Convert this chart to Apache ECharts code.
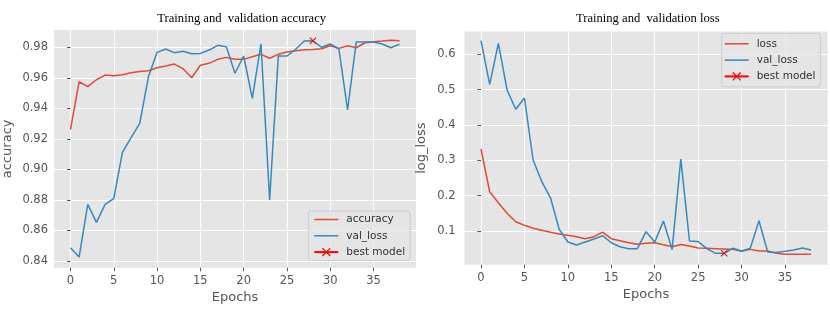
<!DOCTYPE html>
<html>
<head>
<meta charset="utf-8">
<script src="https://cdn.jsdelivr.net/npm/echarts@6/dist/echarts.min.js"></script>
<style>
html,body{margin:0;padding:0;background:#fff;}
#c{width:830px;height:312px;}
</style>
</head>
<body>
<div id="c"></div>
<script>
// ---- data ----
const epochs = Array.from({length: 39}, (_, i) => i);
const xTicks = [0, 5, 10, 15, 20, 25, 30, 35];
const accTicks = [0.84, 0.86, 0.88, 0.90, 0.92, 0.94, 0.96, 0.98];
const lossTicks = [0.1, 0.2, 0.3, 0.4, 0.5, 0.6];

const accuracy = [0.926, 0.9574, 0.9542, 0.9587, 0.9618, 0.9614, 0.962, 0.9633, 0.9642, 0.9646,
  0.9666, 0.9677, 0.969, 0.966, 0.960, 0.9682, 0.9695, 0.9721, 0.9734, 0.9721,
  0.9721, 0.9738, 0.9754, 0.9728, 0.9754, 0.9769, 0.9778, 0.9784, 0.9786, 0.9791,
  0.981, 0.9793, 0.981, 0.9797, 0.983, 0.9837, 0.9841, 0.9846, 0.9843];
const valAccuracy = [0.8485, 0.8424, 0.877, 0.8652, 0.877, 0.8807, 0.9111, 0.9207, 0.9301, 0.9605,
  0.9767, 0.9789, 0.9765, 0.9774, 0.9758, 0.976, 0.9782, 0.9813, 0.9804, 0.963,
  0.9743, 0.9465, 0.9822, 0.8798, 0.9743, 0.9743, 0.9787, 0.9841, 0.9843, 0.980,
  0.9822, 0.9789, 0.9389, 0.9835, 0.9835, 0.9835, 0.9822, 0.9797, 0.982];
const loss = [0.332, 0.211, 0.18, 0.150, 0.1263, 0.116, 0.1076, 0.102, 0.0963, 0.0915,
  0.0878, 0.0838, 0.0782, 0.0838, 0.097, 0.0782, 0.0725, 0.0667, 0.0622, 0.065,
  0.0667, 0.061, 0.0555, 0.062, 0.0575, 0.052, 0.051, 0.050, 0.049, 0.048,
  0.0425, 0.048, 0.0435, 0.0435, 0.037, 0.034, 0.034, 0.034, 0.0345];
const valLoss = [0.6385, 0.515, 0.631, 0.499, 0.4444, 0.4763, 0.3009, 0.2395, 0.194, 0.1048,
  0.0689, 0.0604, 0.0689, 0.0774, 0.0867, 0.0667, 0.0555, 0.050, 0.050, 0.098,
  0.0689, 0.128, 0.0478, 0.3037, 0.0717, 0.070, 0.050, 0.0368, 0.0368, 0.051,
  0.0433, 0.051, 0.129, 0.0405, 0.039, 0.0424, 0.046, 0.052, 0.046];
const bestEpoch = [28];
const bestAcc = [0.9843];
const bestLoss = [0.037];

const pairs = (ys) => ys.map((y, i) => [epochs[i], y]);

// ---- styles ----
const RED = '#E24A33', BLUE = '#348ABD', XRED = '#FF0000';
const TXT = '#555555';
const FONT = 'DejaVu Sans';
const XMARK = 'path://M0,1L1,0L5,4L9,0L10,1L6,5L10,9L9,10L5,6L1,10L0,9L4,5Z';
const LINEICON = 'path://M0,0H24V1.5H0Z';

function xAxisCfg(gi, gap) {
  return {
    type: 'value', gridIndex: gi, min: -1.9, max: 39.9,
    name: 'Epochs', nameLocation: 'middle', nameGap: gap,
    nameTextStyle: {color: TXT, fontFamily: FONT, fontSize: 13},
    axisLine: {show: false},
    axisTick: {show: true, length: 3.5, customValues: xTicks, lineStyle: {color: TXT, width: 1}},
    axisLabel: {customValues: xTicks, color: TXT, fontFamily: FONT, fontSize: 11.5, margin: 7},
    splitLine: {show: true, lineStyle: {color: '#FFFFFF', width: 1.1}}
  };
}
function yAxisCfg(gi, min, max, ticks, name, gap, dec, margin) {
  return {
    type: 'value', gridIndex: gi, min: min, max: max,
    name: name, nameLocation: 'middle', nameGap: gap, nameRotate: 90,
    nameTextStyle: {color: TXT, fontFamily: FONT, fontSize: 13},
    axisLine: {show: false},
    axisTick: {show: true, length: 3.5, customValues: ticks, lineStyle: {color: TXT, width: 1}},
    axisLabel: {customValues: ticks, color: TXT, fontFamily: FONT, fontSize: 11.5, margin: margin,
      formatter: v => Number(v).toFixed(dec)},
    splitLine: {show: true, lineStyle: {color: '#FFFFFF', width: 1.1}}
  };
}
function lineSeries(name, data, color, gi, z) {
  return {
    type: 'line', name: name, xAxisIndex: gi, yAxisIndex: gi, data: data,
    symbol: 'none', lineStyle: {color: color, width: 1.5}, itemStyle: {color: color},
    animation: false, z: z, silent: true
  };
}
function bestSeries(gi, y) {
  return {
    type: 'line', name: 'best model', xAxisIndex: gi, yAxisIndex: gi,
    data: [[bestEpoch[0], y]],
    symbol: XMARK, symbolSize: 7, showSymbol: true,
    lineStyle: {color: XRED, width: 1.5}, itemStyle: {color: XRED},
    animation: false, z: 5, silent: true
  };
}
function legendCfg(left, top, names, padding) {
  return {
    left: left, top: top, orient: 'vertical',
    data: [
      {name: names[0], icon: LINEICON},
      {name: names[1], icon: LINEICON},
      {name: names[2]}
    ],
    itemWidth: 24, itemHeight: 11, itemGap: 5.3,
    padding: padding,
    backgroundColor: 'rgba(229,229,229,0.8)', borderColor: '#CCCCCC', borderWidth: 1, borderRadius: 3,
    textStyle: {color: '#333333', fontFamily: FONT, fontSize: 10.5, padding: [0, 0, 0, 3]},
    selectedMode: false
  };
}

const chart = echarts.init(document.getElementById('c'), null, {renderer: 'canvas'});
chart.setOption({
  animation: false,
  backgroundColor: '#FFFFFF',
  grid: [
    {left: 48.6, top: 30, width: 367.4, height: 237.7, show: true, backgroundColor: '#E5E5E5', borderWidth: 0},
    {left: 464.5, top: 31.5, width: 363.1, height: 233.2, show: true, backgroundColor: '#E5E5E5', borderWidth: 0}
  ],
  xAxis: [xAxisCfg(0, 22), xAxisCfg(1, 21)],
  yAxis: [
    yAxisCfg(0, 0.83545, 0.99135, accTicks, 'accuracy', 40, 2, 6),
    yAxisCfg(1, 0.0046, 0.6645, lossTicks, 'log_loss', 36, 1, 9)
  ],
  legend: [
    legendCfg(308.3, 211, ['accuracy', 'val_loss', 'best model'], [3, 5, 3, 5]),
    legendCfg(721.7, 33.3, ['loss', 'val_loss', 'best model'], [5, 5, 5, 2])
  ],
  graphic: [
    {type: 'text', x: 241.7, y: 18.3, style: {text: 'Training and  validation accuracy',
      font: '12.6px "Liberation Serif"', fill: '#000', textAlign: 'center', textVerticalAlign: 'middle'}},
    {type: 'text', x: 647.8, y: 18.3, style: {text: 'Training and  validation loss',
      font: '12.6px "Liberation Serif"', fill: '#000', textAlign: 'center', textVerticalAlign: 'middle'}}
  ],
  series: [
    lineSeries('accuracy', pairs(accuracy), RED, 0, 2),
    lineSeries('val_loss', pairs(valAccuracy), BLUE, 0, 3),
    bestSeries(0, bestAcc[0]),
    lineSeries('loss', pairs(loss), RED, 1, 2),
    lineSeries('val_loss', pairs(valLoss), BLUE, 1, 3),
    bestSeries(1, bestLoss[0])
  ]
});
</script>
</body>
</html>
